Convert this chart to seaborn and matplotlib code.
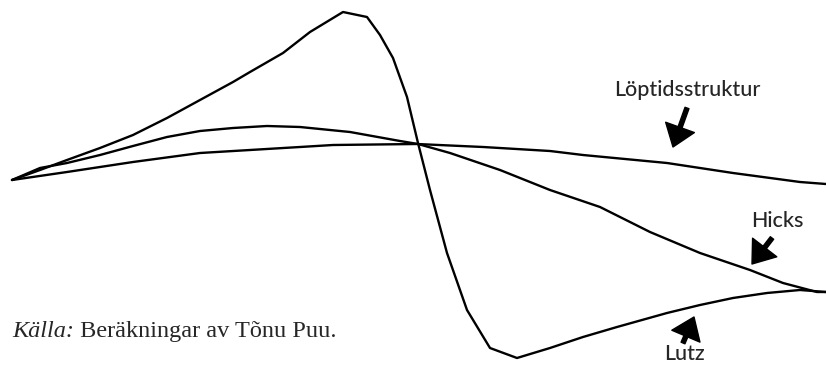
import matplotlib.pyplot as plt
import seaborn as sns
import pandas as pd

# --- Kurvornas värden (godtyckliga enheter) ---
lutz_x = [0.0, 2.8, 5.5, 8.8, 12.1, 15.5, 18.8, 22.1, 23.8, 27.1, 29.8, 33.1, 35.5,
          36.8, 38.1, 39.5, 40.6, 41.8, 43.5, 45.5, 47.8, 50.5, 53.8, 57.1, 60.5,
          65.5, 68.8, 72.1, 75.5, 78.8, 81.4]
lutz_y = [0.0, 1.0, 2.0, 3.2, 4.5, 6.2, 8.0, 9.8, 10.8, 12.7, 14.8, 16.8, 16.3,
          14.5, 12.2, 8.3, 3.7, -1.0, -7.3, -13.0, -16.8, -17.8, -16.8, -15.7, -14.7,
          -13.3, -12.5, -11.8, -11.3, -11.0, -11.2]

hicks_x = [0.0, 2.8, 5.5, 8.8, 12.1, 15.5, 18.8, 22.1, 25.5, 28.8, 33.8, 38.8, 40.6,
           43.8, 48.8, 53.8, 58.8, 63.8, 68.8, 73.8, 77.1, 80.5, 81.4]
hicks_y = [0.0, 1.2, 1.7, 2.5, 3.4, 4.3, 4.9, 5.2, 5.4, 5.3, 4.8, 3.9, 3.6,
           2.7, 1.0, -1.0, -2.7, -5.2, -7.3, -9.0, -10.3, -11.2, -11.2]

lopt_x = [0.0, 5.5, 12.1, 18.8, 23.8, 28.8, 32.1, 40.5, 47.1, 53.8, 57.1, 65.5, 72.1,
          78.8, 81.4]
lopt_y = [0.0, 0.8, 1.8, 2.7, 3.0, 3.3, 3.5, 3.6, 3.3, 2.9, 2.5, 1.7, 0.7,
          -0.2, -0.4]

serie_namn = ['Lutz', 'Hicks', 'Löptidsstruktur']

df = pd.concat([
    pd.DataFrame({'t': lutz_x, 'r': lutz_y, 'serie': 'Lutz'}),
    pd.DataFrame({'t': hicks_x, 'r': hicks_y, 'serie': 'Hicks'}),
    pd.DataFrame({'t': lopt_x, 'r': lopt_y, 'serie': 'Löptidsstruktur'}),
])

sns.set_theme(style='white')
plt.rcParams['font.family'] = ['Lato', 'DejaVu Sans']

fig = plt.figure(figsize=(8.26, 3.67), dpi=100)
ax = fig.add_axes([0, 0, 1, 1])

sns.lineplot(data=df, x='t', y='r', hue='serie', hue_order=serie_namn,
             palette=['black'] * 3, linewidth=1.7, legend=False, sort=False,
             estimator=None, ax=ax)

# pixelkarta: x = (px - 12) / 10, y = (180 - py) / 10
ax.set_xlim(-1.2, 81.4)
ax.set_ylim(-18.7, 18.0)
ax.axis('off')

pil = dict(arrowstyle='simple,head_length=0.75,head_width=1.1,tail_width=0.15',
           color='black', mutation_scale=20, shrinkA=0, shrinkB=0)

# etiketter med pilar
ax.text(67.5, 9.0, 'Löptidsstruktur', ha='center', va='center',
        fontsize=15.5, fontweight='medium')
ax.annotate('', xy=(66.1, 3.3), xytext=(67.5, 7.2), arrowprops=pil)

ax.text(76.5, -4.1, 'Hicks', ha='center', va='center',
        fontsize=15.5, fontweight='medium')
ax.annotate('', xy=(74.0, -8.4), xytext=(76.0, -5.8), arrowprops=pil)

ax.text(67.2, -17.45, 'Lutz', ha='center', va='center',
        fontsize=15.5, fontweight='medium')
ax.annotate('', xy=(68.2, -13.7), xytext=(67.1, -16.3), arrowprops=pil)

# källhänvisning
k = ax.text(0.0, -15.7, 'Källa:', fontsize=17.5, style='italic',
            family='Liberation Serif', ha='left', va='baseline')
ax.annotate(' Beräkningar av Tõnu Puu.', xy=(1, 0), xycoords=k,
            ha='left', va='bottom', fontsize=17.5, family='Liberation Serif')

fig.savefig('out.png', dpi=100)
